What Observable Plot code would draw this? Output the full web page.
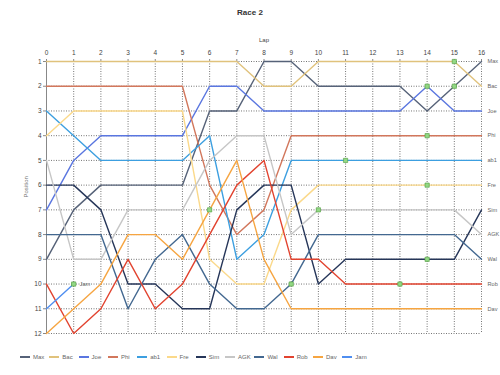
<!DOCTYPE html>
<html>
<head>
<meta charset="utf-8">
<script src="https://cdn.jsdelivr.net/npm/d3@7"></script>
<script src="https://cdn.jsdelivr.net/npm/@observablehq/plot@0.6"></script>
<style>
  html, body { margin: 0; padding: 0; background: #fff; width: 500px; height: 375px; overflow: hidden; font-family: "Liberation Sans", Arial, sans-serif; }
  #title { height: 24px; line-height: 26px; text-align: center; font-size: 8px; font-weight: bold; color: #333; }
  #chart svg { display: block; overflow: visible; }
  #legend { position: absolute; top: 352px; left: 0; width: 500px; height: 12px; }
  .item { position: absolute; top: 0; height: 10px; font-size: 6px; color: #666; line-height: 10px; white-space: nowrap; }
  .sw { display: inline-block; width: 10px; height: 2px; vertical-align: middle; margin-right: 3px; margin-top: -1px; }
</style>
</head>
<body>
<div id="title">Race 2</div>
<div id="chart"></div>
<div id="legend"></div>
<script>
// ---- data ----
const laps = [0,1,2,3,4,5,6,7,8,9,10,11,12,13,14,15,16];
const names = ["Max","Bac","Joe","Phi","ab1","Fre","Sim","AGK","Wal","Rob","Dav","Jam"];
const colors = ["#566278","#e0c27c","#5a76e0","#d2775c","#3c9fe0","#fbd98a","#263659","#c6c6c6","#436890","#e2432f","#f6a541","#4f8ef0"];
const Max = [9,7,6,6,6,6,3,3,1,1,2,2,2,2,3,2,1];
const Bac = [1,1,1,1,1,1,1,1,2,2,1,1,1,1,1,1,2];
const Joe = [7,5,4,4,4,4,2,2,3,3,3,3,3,3,2,3,3];
const Phi = [2,2,2,2,2,2,6,8,7,4,4,4,4,4,4,4,4];
const ab1 = [3,4,5,5,5,5,4,9,8,5,5,5,5,5,5,5,5];
const Fre = [4,3,3,3,3,3,9,10,10,7,6,6,6,6,6,6,6];
const Sim = [6,6,7,10,10,11,11,7,6,6,10,9,9,9,9,9,7];
const AGK = [5,9,9,7,7,7,5,4,4,8,7,7,7,7,7,7,8];
const Wal = [8,8,8,11,9,8,10,11,11,10,8,8,8,8,8,8,9];
const Rob = [10,12,11,9,11,10,8,6,5,9,9,10,10,10,10,10,10];
const Dav = [12,11,10,8,8,9,7,5,9,11,11,11,11,11,11,11,11];
const Jam = [11,10];
const pitNames = ["Jam","Dav","Wal","AGK","ab1","Rob","Joe","Phi","Fre","Sim","Bac","Max"];
const pitLaps  = [1,6,9,10,11,13,14,14,14,14,15,15];
const positionTicks = [1,2,3,4,5,6,7,8,9,10,11,12];

// ---- build table ----
const series = {Max, Bac, Joe, Phi, ab1, Fre, Sim, AGK, Wal, Rob, Dav, Jam};
const rows = [];
for (const n of names) series[n].forEach((p, i) => rows.push({name: n, lap: laps[i], pos: p}));
const pits = pitNames.map((n, i) => ({name: n, lap: pitLaps[i], pos: series[n][pitLaps[i]]}));
const ends = names.map(n => ({name: n, lap: laps[series[n].length - 1], pos: series[n][series[n].length - 1]}));

const chart = Plot.plot({
  width: 500,
  height: 320,
  marginTop: 37,
  marginBottom: 11,
  marginLeft: 46,
  marginRight: 19,
  style: {fontFamily: "Liberation Sans, Arial, sans-serif", fontSize: "6.5px", color: "#444", overflow: "visible"},
  x: {domain: [0, 16]},
  y: {domain: [1, 12], reverse: true},
  color: {domain: names, range: colors},
  marks: [
    Plot.gridX(laps, {stroke: "#666", strokeOpacity: 0.9, strokeDasharray: "1,1.5"}),
    Plot.gridY(positionTicks, {stroke: "#666", strokeOpacity: 0.9, strokeDasharray: "1,1.5"}),
    Plot.axisX(laps, {anchor: "top", label: null, tickSize: 3, tickPadding: 4, fill: "#444", stroke: "#888"}),
    Plot.axisY(positionTicks, {anchor: "left", label: null, tickSize: 3, tickPadding: 2, fill: "#444", stroke: "#888"}),
    Plot.ruleX([0], {stroke: "#888", strokeWidth: 1}),
    Plot.text(["Lap"], {frameAnchor: "top", dy: -24, fontSize: 6, fill: "#444"}),
    Plot.text(["Position"], {frameAnchor: "left", dx: -20, rotate: -90, fontSize: 6, fill: "#777"}),
    Plot.line(rows, {x: "lap", y: "pos", z: "name", stroke: "name", strokeWidth: 1.4}),
    Plot.dot(pits, {x: "lap", y: "pos", symbol: "square", r: 2.4, fill: "#92d884", stroke: "#4d9a3c", strokeWidth: 0.6}),
    Plot.text(ends, {x: "lap", y: "pos", text: "name", textAnchor: "start", dx: 6, fontSize: 5.6, fill: "#666"})
  ]
});
document.getElementById("chart").appendChild(chart);

// ---- legend ----
const legend = document.getElementById("legend");
names.forEach((n, i) => {
  const d = document.createElement("div");
  d.className = "item";
  d.style.left = (20 + i * 29.3) + "px";
  d.innerHTML = `<span class="sw" style="background:${colors[i]}"></span>${n}`;
  legend.appendChild(d);
});
</script>
</body>
</html>
